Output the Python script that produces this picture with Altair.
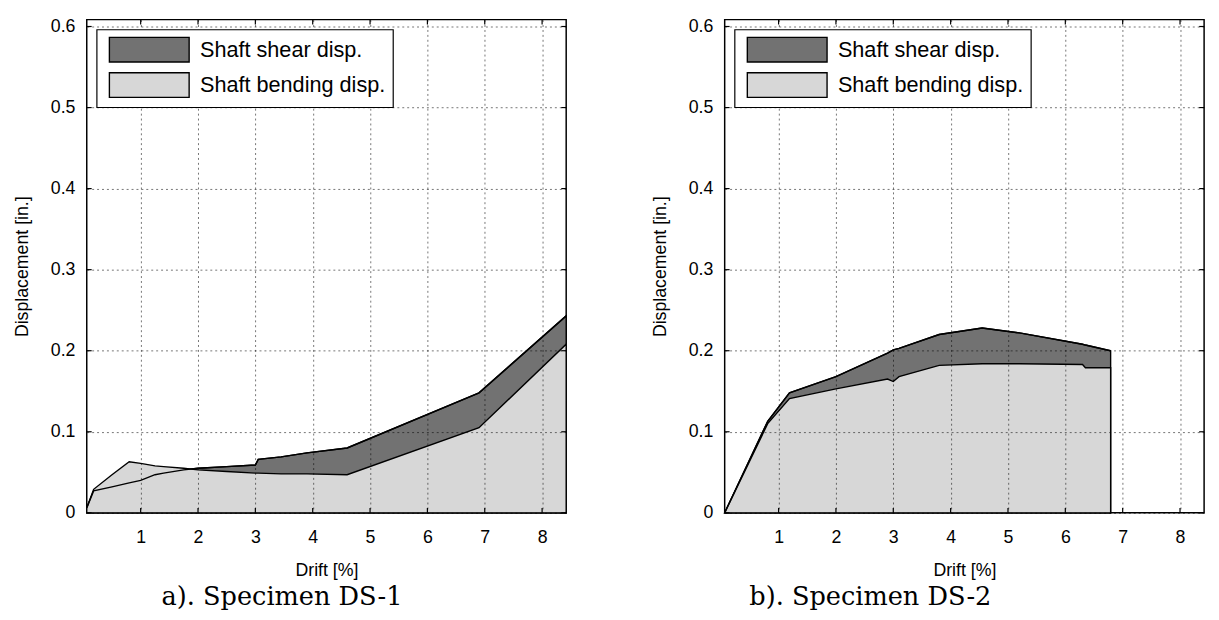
import altair as alt
import pandas as pd

# ---------------- data ----------------
# Specimen DS-1
drift_a = [0.06, 0.18, 0.5, 0.8, 1.0, 1.25, 1.4, 1.75, 2.0, 2.5, 3.0, 3.05, 3.45, 3.9, 4.6, 6.9, 8.42]
bending_a = [0.006, 0.029, 0.047, 0.063, 0.061, 0.058, 0.057, 0.055, 0.053, 0.051, 0.049, 0.049, 0.048, 0.048, 0.047, 0.105, 0.208]
shear_top_a = [0.006, 0.027, 0.032, 0.037, 0.040, 0.047, 0.049, 0.053, 0.055, 0.057, 0.059, 0.066, 0.069, 0.074, 0.080, 0.148, 0.243]

# Specimen DS-2
drift_b = [0.06, 0.81, 1.19, 2.0, 2.9, 3.0, 3.1, 3.8, 4.55, 5.2, 6.3, 6.35, 6.79]
bending_b = [0.0, 0.110, 0.141, 0.153, 0.165, 0.162, 0.168, 0.182, 0.184, 0.184, 0.183, 0.179, 0.179]
shear_top_b = [0.0, 0.113, 0.148, 0.168, 0.197, 0.201, 0.203, 0.220, 0.228, 0.222, 0.208, 0.207, 0.200]

x_ticks = [1, 2, 3, 4, 5, 6, 7, 8]
y_ticks = [0, 0.1, 0.2, 0.3, 0.4, 0.5, 0.6]
series = ["Shaft shear disp.", "Shaft bending disp."]
colors = ["#727272", "#d7d7d7"]
captions = ["a). Specimen DS-1", "b). Specimen DS-2"]

W, H = 487, 501
TICK = 5
FONT = "Liberation Sans"
XDOM = [0.06, 8.42]
YDOM = [0, 0.6085]


def panel(drift, bending, top, caption, cap_dx):
    df = pd.DataFrame({"drift": drift, "bending": bending, "total": top})
    xt = pd.DataFrame({"v": x_ticks})
    yt = pd.DataFrame({"v": y_ticks})
    xscale = alt.Scale(domain=XDOM, nice=False, zero=False)
    yscale = alt.Scale(domain=YDOM, nice=False)
    cscale = alt.Scale(domain=series, range=colors)
    x = alt.X("drift:Q", scale=xscale,
              axis=alt.Axis(values=x_ticks, title="Drift [%]", format="d",
                            grid=True, zindex=1))
    xs = alt.X("drift:Q", scale=xscale)
    base = alt.Chart(df)
    shear = base.mark_area(stroke="black", strokeWidth=1.4, opacity=1).transform_calculate(
        series="'" + series[0] + "'"
    ).encode(
        x=x,
        y=alt.Y("total:Q", scale=yscale,
                axis=alt.Axis(values=y_ticks, title="Displacement [in.]",
                              format=".1~f", grid=True, zindex=1)),
        color=alt.Color("series:N", scale=cscale, legend=alt.Legend(title=None)),
    )
    bend = base.mark_area(stroke="black", strokeWidth=1.4, opacity=1).transform_calculate(
        series="'" + series[1] + "'"
    ).encode(
        x=xs,
        y=alt.Y("bending:Q", scale=yscale),
        color=alt.Color("series:N", scale=cscale, legend=alt.Legend(title=None)),
    )
    line = base.mark_line(color="black", strokeWidth=1.4).encode(
        x=xs, y=alt.Y("total:Q", scale=yscale)
    )
    # inward tick marks on all four sides (Matlab box style)
    tb = alt.Chart(xt).mark_rule(color="black", strokeWidth=1.2).encode(
        x=alt.X("v:Q", scale=xscale), y=alt.value(H), y2=alt.value(H - TICK))
    tt = alt.Chart(xt).mark_rule(color="black", strokeWidth=1.2).encode(
        x=alt.X("v:Q", scale=xscale), y=alt.value(0), y2=alt.value(TICK))
    tl = alt.Chart(yt).mark_rule(color="black", strokeWidth=1.2).encode(
        y=alt.Y("v:Q", scale=yscale), x=alt.value(0), x2=alt.value(TICK))
    tr = alt.Chart(yt).mark_rule(color="black", strokeWidth=1.2).encode(
        y=alt.Y("v:Q", scale=yscale), x=alt.value(W), x2=alt.value(W - TICK))
    return alt.layer(shear, bend, line, tb, tt, tl, tr).properties(
        width=W, height=H,
        title=alt.TitleParams(caption, orient="bottom", anchor="start",
                              frame="group", dx=cap_dx, offset=5,
                              font="DejaVu Serif", fontSize=26,
                              fontWeight="normal", color="black"),
    )


a = panel(drift_a, bending_a, shear_top_a, captions[0], 76)
b = panel(drift_b, bending_b, shear_top_b, captions[1], 25)

chart = alt.hconcat(a, b, spacing=82).resolve_scale(color="independent").properties(
    padding={"left": 5, "top": 4, "right": 5, "bottom": 0}
).configure_view(
    stroke="black", strokeWidth=1.5
).configure_axis(
    labelFont=FONT, titleFont=FONT, labelFontSize=18, titleFontSize=18,
    labelColor="black", titleColor="black", titleFontWeight="normal",
    ticks=False, domain=False,
    gridColor="black", gridOpacity=0.55, gridDash=[2, 3], gridWidth=1,
).configure_axisY(
    labelPadding=12, titlePadding=19
).configure_axisX(
    labelPadding=16, titlePadding=16
).configure_legend(
    orient="top-left", offset=10, padding=7, fillColor="white",
    strokeColor="black", strokeWidth=1.2, zindex=3,
    symbolType="M-0.6,-1H5.88V1H-0.6Z", symbolSize=625,
    symbolStrokeColor="black", symbolStrokeWidth=1.4, symbolOpacity=1,
    labelFont=FONT, labelFontSize=22, labelColor="black", labelOffset=71,
    rowPadding=5, labelLimit=400,
)

chart.save("out.html", embed_options={"renderer": "svg", "actions": False})
